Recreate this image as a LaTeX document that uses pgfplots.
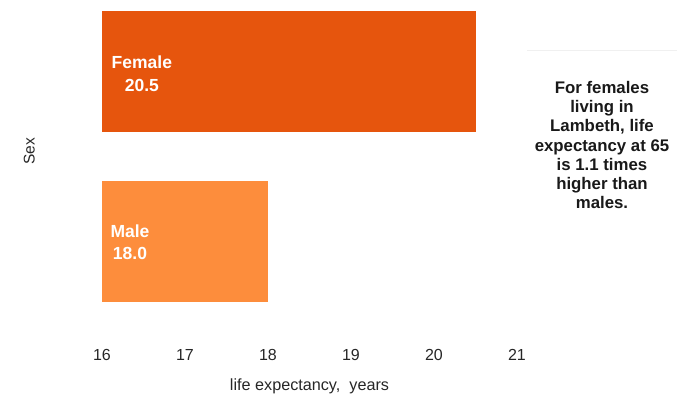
\documentclass[border=0pt]{standalone}
\usepackage{pgfplots}
\pgfplotsset{compat=1.18}
\usepackage{fontspec}
\setmainfont{Liberation Sans}
\definecolor{fem}{HTML}{E6550D}
\definecolor{mal}{HTML}{FD8D3C}
\begin{document}
\begin{tikzpicture}
\useasboundingbox (0,0) rectangle (692pt,404pt);
\begin{axis}[
  at={(102pt,60pt)}, anchor=south west,
  scale only axis, width=415pt, height=340pt,
  xmin=16, xmax=21, ymin=-0.6, ymax=1.4,
  xbar, bar width=121pt, bar shift=0pt,
  axis line style={draw=none}, tick style={draw=none},
  xtick={16,17,18,19,20,21}, ytick=\empty,
  /pgf/number format/assume math mode=true,
  ticklabel style={font=\fontsize{16}{18}\selectfont, text=black!85},
  xticklabel style={anchor=north, text height=11.5pt, text depth=0pt, yshift=-1pt},
  xlabel={life expectancy,\ \ years},
  xlabel style={at={(axis description cs:0.5,-0.1235)}, anchor=center, font=\fontsize{16.2}{18}\selectfont, text=black!85},
  ylabel={Sex},
  ylabel style={at={(axis description cs:-0.175,0.567)}, anchor=center, rotate=0, font=\fontsize{15.5}{18}\selectfont, text=black!85},
]
\addplot[fill=fem, draw=none] coordinates {(20.5,1)};
\addplot[fill=mal, draw=none] coordinates {(18.0,0)};
\node[anchor=center, text=white, font=\bfseries\fontsize{17.5}{20}\selectfont] at (axis cs:16.48,1.059) {Female};
\node[anchor=center, text=white, font=\bfseries\fontsize{17.5}{20}\selectfont] at (axis cs:16.48,0.921) {20.5};
\node[anchor=center, text=white, font=\bfseries\fontsize{17.5}{20}\selectfont] at (axis cs:16.337,0.065) {Male};
\node[anchor=center, text=white, font=\bfseries\fontsize{17.5}{20}\selectfont] at (axis cs:16.337,-0.068) {18.0};
\end{axis}
\draw[black!6, line width=0.8pt] (527pt,354pt) -- (677pt,354pt);
\node[align=center, font=\bfseries\fontsize{16.8}{19.3}\selectfont, text=black!90] at (602pt,259pt) {For females\\living in\\Lambeth, life\\expectancy at 65\\is 1.1 times\\higher than\\males.};
\end{tikzpicture}
\end{document}
